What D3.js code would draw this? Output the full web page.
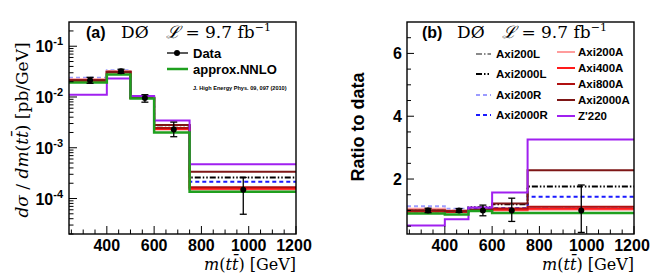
<!DOCTYPE html>
<html>
<head>
<meta charset="utf-8">
<script src="https://cdn.jsdelivr.net/npm/d3@7"></script>
<style>
  body { margin: 0; background: #fff; }
  svg { display: block; }
  .tick-label { font-family: "Liberation Sans", Arial, sans-serif; font-weight: bold; font-size: 16px; }
  .serif { font-family: "DejaVu Serif", "Liberation Serif", serif; }
</style>
</head>
<body>
<svg id="chart" width="654" height="279"></svg>
<script>
// D0 m(ttbar) differential cross section and ratio to data
const width = 654;
const height = 279;

const binEdges = [240, 400, 500, 600, 750, 1200];
const dataMass = [329, 460, 561, 683, 977];
const dataXsec = [0.0213, 0.032, 0.0095, 0.0023, 0.000148];
const dataXsecLo = [0.0186, 0.0292, 0.0079, 0.00165, 0.000049];
const dataXsecHi = [0.0244, 0.0352, 0.0111, 0.0032, 0.00026];
const dataRatio = [1, 1, 1, 1, 1];
const dataRatioLo = [0.93, 0.94, 0.83, 0.65, 0.3];
const dataRatioHi = [1.07, 1.06, 1.17, 1.39, 1.81];

// model predictions, left panel [pb/GeV]
const xsecAxi200L = [0.0217, 0.032, 0.0098, 0.00237, 0.000158];
const xsecAxi2000L = [0.0213, 0.0314, 0.0104, 0.00276, 0.00026];
const xsecAxi200R = [0.0239, 0.0336, 0.0099, 0.00242, 0.00016];
const xsecAxi2000R = [0.0207, 0.031, 0.0103, 0.00246, 0.000213];
const xsecAxi200A = [0.0224, 0.032, 0.0095, 0.0023, 0.000151];
const xsecAxi400A = [0.0204, 0.0304, 0.0095, 0.00235, 0.000155];
const xsecAxi800A = [0.0213, 0.0314, 0.0097, 0.00244, 0.000166];
const xsecAxi2000A = [0.0213, 0.031, 0.0097, 0.0028, 0.000335];
const xsecZp220 = [0.0111, 0.023, 0.0104, 0.00345, 0.000474];
const xsecNNLO = [0.0192, 0.0278, 0.0093, 0.002, 0.000136];

// model / data, right panel
const ratioAxi200L = [1.02, 1.0, 1.03, 1.03, 1.07];
const ratioAxi2000L = [1.0, 0.98, 1.1, 1.2, 1.76];
const ratioAxi200R = [1.13, 1.05, 1.05, 1.05, 1.08];
const ratioAxi2000R = [0.97, 0.97, 1.08, 1.07, 1.44];
const ratioAxi200A = [1.05, 1.0, 1.0, 1.0, 1.02];
const ratioAxi400A = [0.96, 0.95, 1.0, 1.02, 1.05];
const ratioAxi800A = [1.0, 0.98, 1.02, 1.06, 1.12];
const ratioAxi2000A = [1.0, 0.97, 1.02, 1.22, 2.28];
const ratioZp220 = [0.52, 0.72, 1.09, 1.57, 3.26];
const ratioNNLO = [0.9, 0.87, 0.98, 0.92, 0.92];

const xTicks = [400, 600, 800, 1000, 1200];
const logTicks = [1e-1, 1e-2, 1e-3, 1e-4];
const logTickLabels = ["-1", "-2", "-3", "-4"];
const ratioTicks = [2, 4, 6];

const models = [
  { name: "Axi200L", xsec: xsecAxi200L, ratio: ratioAxi200L },
  { name: "Axi2000L", xsec: xsecAxi2000L, ratio: ratioAxi2000L },
  { name: "Axi200R", xsec: xsecAxi200R, ratio: ratioAxi200R },
  { name: "Axi2000R", xsec: xsecAxi2000R, ratio: ratioAxi2000R },
  { name: "Axi200A", xsec: xsecAxi200A, ratio: ratioAxi200A },
  { name: "Axi400A", xsec: xsecAxi400A, ratio: ratioAxi400A },
  { name: "Axi800A", xsec: xsecAxi800A, ratio: ratioAxi800A },
  { name: "Axi2000A", xsec: xsecAxi2000A, ratio: ratioAxi2000A },
  { name: "Z'220", xsec: xsecZp220, ratio: ratioZp220 },
  { name: "approx.NNLO", xsec: xsecNNLO, ratio: ratioNNLO },
];

const style = {
  "Axi200L": { color: "#8a8a8a", dash: "6,2,1.5,2", w: 2 },
  "Axi2000L": { color: "#000000", dash: "6,2,1.5,2,1.5,2", w: 2 },
  "Axi200R": { color: "#9c9cff", dash: "4,3", w: 2 },
  "Axi2000R": { color: "#1a1aff", dash: "4,3", w: 2 },
  "Axi200A": { color: "#ff9c9c", dash: null, w: 2 },
  "Axi400A": { color: "#ff1a1a", dash: null, w: 2 },
  "Axi800A": { color: "#b01010", dash: null, w: 2 },
  "Axi2000A": { color: "#7e1616", dash: null, w: 2 },
  "Z'220": { color: "#a020f0", dash: null, w: 2 },
  "approx.NNLO": { color: "#1fa01f", dash: null, w: 2.5 },
};

const svg = d3.select("#chart");

function stepPoints(values) {
  const pts = values.map((v, i) => [binEdges[i], v]);
  pts.push([binEdges[binEdges.length - 1], values[values.length - 1]]);
  return pts;
}

function header(x, label) {
  const g = svg.append("g").attr("transform", `translate(${x},38)`);
  g.append("text").attr("class", "tick-label").attr("x", 0).attr("y", 0).text(label);
  g.append("text").attr("class", "serif").attr("x", 35).attr("y", 0)
    .style("font-size", "17px").text("DØ");
  const lum = g.append("text").attr("class", "serif").attr("x", 80).attr("y", 0)
    .style("font-size", "17px");
  lum.append("tspan").style("font-style", "italic").text("ℒ");
  lum.append("tspan").text(" = 9.7 fb");
  lum.append("tspan").attr("dy", -7).style("font-size", "11px").text("−1");
}

function xLabel(right) {
  const t = svg.append("text").attr("class", "serif")
    .attr("x", right).attr("y", 270).attr("text-anchor", "end")
    .style("font-size", "16px");
  t.append("tspan").style("font-style", "italic").text("m");
  t.append("tspan").text("(");
  t.append("tspan").style("font-style", "italic").text("tt\u0304");
  t.append("tspan").text(") [GeV]");
}

function panel(left, yScale, key, clipId) {
  const right = left + 227;
  const top = 22, bottom = 234;
  const xScale = d3.scaleLinear().domain([240, 1200]).range([left, right]);

  svg.append("clipPath").attr("id", clipId).append("rect")
    .attr("x", left).attr("y", top).attr("width", right - left).attr("height", bottom - top);

  const g = svg.append("g").attr("clip-path", `url(#${clipId})`);
  const line = d3.line().x(d => xScale(d[0])).y(d => yScale(d[1])).curve(d3.curveStepAfter);

  models.forEach(m => {
    const s = style[m.name];
    g.append("path")
      .attr("d", line(stepPoints(m[key])))
      .attr("fill", "none")
      .attr("stroke", s.color)
      .attr("stroke-width", s.w)
      .attr("stroke-dasharray", s.dash);
  });

  // data points with error bars
  const vals = key === "xsec" ? dataXsec : dataRatio;
  const lo = key === "xsec" ? dataXsecLo : dataRatioLo;
  const hi = key === "xsec" ? dataXsecHi : dataRatioHi;
  dataMass.forEach((m, i) => {
    const x = xScale(m);
    g.append("line").attr("x1", x).attr("x2", x)
      .attr("y1", yScale(lo[i])).attr("y2", yScale(hi[i]))
      .attr("stroke", "#000").attr("stroke-width", 1.3);
    [lo[i], hi[i]].forEach(v => {
      g.append("line").attr("x1", x - 3.5).attr("x2", x + 3.5)
        .attr("y1", yScale(v)).attr("y2", yScale(v))
        .attr("stroke", "#000").attr("stroke-width", 1.3);
    });
    g.append("circle").attr("cx", x).attr("cy", yScale(vals[i])).attr("r", 3).attr("fill", "#000");
  });

  // x ticks (inside, bottom)
  for (let v = 250; v <= 1200; v += 50) {
    const major = v % 200 === 0;
    svg.append("line")
      .attr("x1", xScale(v)).attr("x2", xScale(v))
      .attr("y1", bottom).attr("y2", bottom - (major ? 8 : 4.5))
      .attr("stroke", "#000").attr("stroke-width", 1);
  }
  svg.selectAll(null).data(xTicks).join("text")
    .attr("class", "tick-label")
    .attr("x", d => xScale(d) - (d === 1200 ? 2 : 0))
    .attr("y", 251)
    .attr("text-anchor", "middle")
    .text(d => d);

  svg.append("rect")
    .attr("x", left).attr("y", top).attr("width", right - left).attr("height", bottom - top)
    .attr("fill", "none").attr("stroke", "#000").attr("stroke-width", 1.4);

  xLabel(right);
  return { left, right, top, bottom };
}

// ---- panel (a)
const yLog = d3.scaleLog().domain([2e-5, 0.3]).range([234, 22]);
const pa = panel(69, yLog, "xsec", "clipA");
for (let e = -5; e <= -1; e++) {
  for (let k = 1; k <= 9; k++) {
    const v = k * Math.pow(10, e);
    if (v < 2e-5 || v > 0.3) continue;
    svg.append("line")
      .attr("x1", pa.left).attr("x2", pa.left + (k === 1 ? 8 : 4.5))
      .attr("y1", yLog(v)).attr("y2", yLog(v))
      .attr("stroke", "#000").attr("stroke-width", 1);
  }
}
logTicks.forEach((v, i) => {
  const t = svg.append("text").attr("class", "tick-label")
    .attr("x", 63).attr("y", yLog(v) + 6).attr("text-anchor", "end");
  t.append("tspan").text("10");
  t.append("tspan").attr("dy", -7).style("font-size", "11px").text(logTickLabels[i]);
});
header(86, "(a)");

// left y label
const yl = svg.append("text").attr("class", "serif")
  .attr("transform", "translate(28,130) rotate(-90)")
  .attr("text-anchor", "middle").style("font-size", "17px");
yl.append("tspan").style("font-style", "italic").text("dσ");
yl.append("tspan").text(" / ");
yl.append("tspan").style("font-style", "italic").text("dm");
yl.append("tspan").text("(");
yl.append("tspan").style("font-style", "italic").text("tt\u0304");
yl.append("tspan").text(") [pb/GeV]");

// legend (a)
const legA = svg.append("g");
legA.append("line").attr("x1", 167).attr("x2", 188).attr("y1", 53).attr("y2", 53)
  .attr("stroke", "#000").attr("stroke-width", 1.3);
legA.append("circle").attr("cx", 177).attr("cy", 53).attr("r", 3).attr("fill", "#000");
legA.append("text").attr("class", "tick-label").attr("x", 193).attr("y", 57.5)
  .style("font-size", "13px").text("Data");
legA.append("line").attr("x1", 167).attr("x2", 188).attr("y1", 69).attr("y2", 69)
  .attr("stroke", style["approx.NNLO"].color).attr("stroke-width", 2.5);
legA.append("text").attr("class", "tick-label").attr("x", 193).attr("y", 73.5)
  .style("font-size", "13px").text("approx.NNLO");
legA.append("text").attr("class", "tick-label").attr("x", 193).attr("y", 90)
  .style("font-size", "5.6px").text("J. High Energy Phys. 09, 097 (2010)");

// ---- panel (b)
const yRatio = d3.scaleLinear().domain([0.25, 7]).range([234, 22]);
const pb = panel(407, yRatio, "ratio", "clipB");
for (let v = 0.5; v <= 6.5; v += 0.5) {
  const major = v % 2 === 0;
  svg.append("line")
    .attr("x1", pb.left).attr("x2", pb.left + (major ? 7 : 4))
    .attr("y1", yRatio(v)).attr("y2", yRatio(v))
    .attr("stroke", "#000").attr("stroke-width", 1);
}
svg.selectAll(null).data(ratioTicks).join("text")
  .attr("class", "tick-label")
  .attr("x", 402).attr("y", d => yRatio(d) + 6)
  .attr("text-anchor", "end")
  .text(d => d);
header(422, "(b)");

svg.append("text").attr("class", "tick-label")
  .attr("transform", "translate(364,127) rotate(-90)")
  .attr("text-anchor", "middle").style("font-size", "18px")
  .text("Ratio to data");

// legend (b)
const legCol1 = ["Axi200L", "Axi2000L", "Axi200R", "Axi2000R"];
const legCol2 = ["Axi200A", "Axi400A", "Axi800A", "Axi2000A", "Z'220"];
const legRow1 = [54, 74, 95, 115];
const legRow2 = [52, 68, 84, 100, 116];
function legendEntry(name, x1, x2, tx, y) {
  const s = style[name];
  svg.append("line").attr("x1", x1).attr("x2", x2).attr("y1", y).attr("y2", y)
    .attr("stroke", s.color).attr("stroke-width", 2).attr("stroke-dasharray", s.dash);
  svg.append("text").attr("class", "tick-label").attr("x", tx).attr("y", y + 4)
    .style("font-size", "11.5px").text(name);
}
legCol1.forEach((n, i) => legendEntry(n, 476, 491, 496, legRow1[i]));
legCol2.forEach((n, i) => legendEntry(n, 557, 575, 578, legRow2[i]));
</script>
</body>
</html>
